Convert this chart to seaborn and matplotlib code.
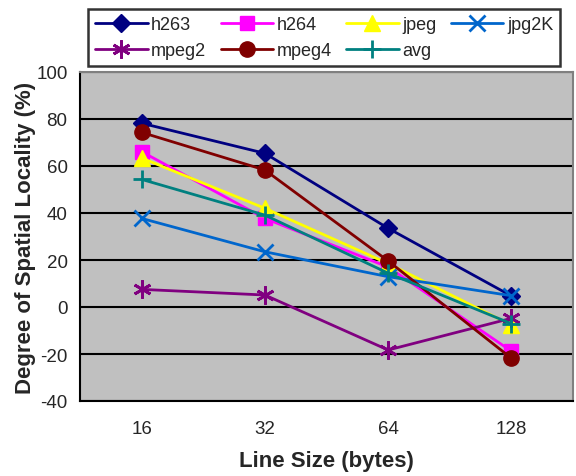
import matplotlib
matplotlib.use("Agg")
import matplotlib.pyplot as plt
import seaborn as sns
import pandas as pd

# Line sizes (bytes) and spatial-locality percentages per benchmark
line_sizes = ["16", "32", "64", "128"]
h263 = [78.2, 65.4, 33.5, 4.7]
h264 = [66.1, 37.7, 17.0, -18.8]
jpeg = [63.4, 42.0, 18.5, -7.7]
jpg2k = [37.7, 23.5, 12.9, 4.8]
mpeg2 = [7.5, 5.1, -18.3, -4.8]
mpeg4 = [74.3, 58.3, 19.6, -21.8]
avg = [54.3, 39.1, 14.4, -7.1]

series = [
    ("h263", h263, "#000080", "D", 9),
    ("h264", h264, "#FF00FF", "s", 10),
    ("jpeg", jpeg, "#FFFF00", "^", 11),
    ("jpg2K", jpg2k, "#0066CC", "x", 11),
    ("mpeg2", mpeg2, "#800080", (6, 2, 0), 13),
    ("mpeg4", mpeg4, "#800000", "o", 11),
    ("avg", avg, "#008080", "+", 13),
]

rows = []
for name, vals, *_ in series:
    for i, v in enumerate(vals):
        rows.append({"bench": name, "pos": i, "value": v})
df = pd.DataFrame(rows)

sns.set_style("white")
plt.rcParams["font.family"] = ["Liberation Sans", "DejaVu Sans"]
plt.rcParams["axes.unicode_minus"] = False

fig = plt.figure(figsize=(5.76, 4.77), dpi=100)
ax = fig.add_axes([80 / 576, 1 - 402 / 477, (573 - 80) / 576, (402 - 73) / 477])
ax.set_facecolor("#C0C0C0")

for name, vals, color, marker, ms in series:
    sub = df[df["bench"] == name]
    sns.lineplot(data=sub, x="pos", y="value", ax=ax, color=color, lw=2,
                 marker=marker, markersize=ms, markeredgecolor=color,
                 markeredgewidth=2 if marker in ("x", "+", (6, 2, 0)) else 1,
                 label=name, zorder=3)

ax.set_ylim(-40, 100)
ax.set_yticks(range(-40, 101, 20))
ax.set_xlim(-0.5, 3.5)
ax.set_xticks([-0.5, 0.5, 1.5, 2.5, 3.5])
ax.set_xticklabels([])
ax.set_xticks(range(4), minor=True)
ax.set_xticklabels(line_sizes, minor=True)
ax.tick_params(axis="x", which="minor", length=0, pad=14, labelsize=13.5)
ax.tick_params(axis="x", which="major", length=6, width=1.5, direction="out", color="black")
ax.tick_params(axis="y", length=6, width=1.5, direction="out", color="black", labelsize=13.5, pad=3)

ax.yaxis.grid(True, color="black", lw=1.5)
ax.set_axisbelow(True)

for side in ("left", "bottom"):
    ax.spines[side].set_color("black")
    ax.spines[side].set_linewidth(1.5)
for side in ("top", "right"):
    ax.spines[side].set_color("#808080")
    ax.spines[side].set_linewidth(1.5)

ax.set_xlabel("Line Size (bytes)", fontsize=16, fontweight="bold", labelpad=9)
ax.set_ylabel("Degree of Spatial Locality (%)", fontsize=16, fontweight="bold", labelpad=0)

# legend filled row by row (matplotlib fills columns first)
handles, labels = ax.get_legend_handles_labels()
order = [0, 4, 1, 5, 2, 6, 3]
ax.get_legend().remove()
leg = fig.legend([handles[i] for i in order], [labels[i] for i in order],
                 ncol=4, loc="upper left", bbox_to_anchor=(88 / 576, 1 - 10 / 477),
                 borderaxespad=0, frameon=True, fontsize=13, handlelength=2.9,
                 columnspacing=0.8, handletextpad=0.2, borderpad=0.4,
                 labelspacing=0.5, fancybox=False, edgecolor="black")
leg.get_frame().set_linewidth(1.8)

fig.savefig("out.png", dpi=100, facecolor="white")
